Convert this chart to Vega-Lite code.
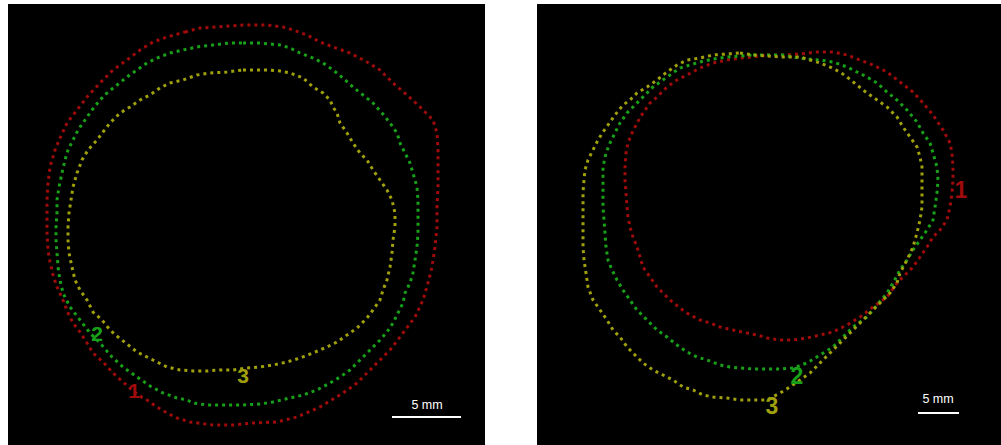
{
  "$schema": "https://vega.github.io/schema/vega-lite/v6.json",
  "background": "white",
  "padding": {"left": 8, "top": 4, "right": 0, "bottom": 0},
  "spacing": 52,
  "config": {"view": {"fill": "black", "stroke": null}, "text": {"font": "Liberation Sans"}},
  "resolve": {"scale": {"color": "shared"}},
  "hconcat": [
    {
      "width": 477,
      "height": 441,
      "layer": [
        {
          "data": {"values": [
            {"s":"1","x":185,"y":32},{"s":"1","x":200,"y":28},{"s":"1","x":217,"y":27},{"s":"1","x":243,"y":25},{"s":"1","x":267,"y":25},{"s":"1","x":283,"y":27},{"s":"1","x":293,"y":30},{"s":"1","x":307,"y":35},{"s":"1","x":320,"y":42},{"s":"1","x":333,"y":47},{"s":"1","x":350,"y":53},{"s":"1","x":367,"y":62},{"s":"1","x":380,"y":70},{"s":"1","x":393,"y":83},{"s":"1","x":407,"y":95},{"s":"1","x":420,"y":107},{"s":"1","x":433,"y":120},{"s":"1","x":437,"y":133},{"s":"1","x":438,"y":150},{"s":"1","x":438,"y":167},{"s":"1","x":438,"y":187},{"s":"1","x":437,"y":207},{"s":"1","x":437,"y":227},{"s":"1","x":435,"y":247},{"s":"1","x":432,"y":267},{"s":"1","x":428,"y":283},{"s":"1","x":423,"y":300},{"s":"1","x":415,"y":317},{"s":"1","x":403,"y":333},{"s":"1","x":390,"y":350},{"s":"1","x":373,"y":367},{"s":"1","x":357,"y":383},{"s":"1","x":343,"y":393},{"s":"1","x":320,"y":407},{"s":"1","x":297,"y":417},{"s":"1","x":277,"y":422},{"s":"1","x":253,"y":423},{"s":"1","x":233,"y":425},{"s":"1","x":213,"y":425},{"s":"1","x":190,"y":422},{"s":"1","x":177,"y":418},{"s":"1","x":167,"y":413},{"s":"1","x":157,"y":407},{"s":"1","x":147,"y":400},{"s":"1","x":138,"y":395},{"s":"1","x":123,"y":382},{"s":"1","x":113,"y":373},{"s":"1","x":103,"y":362},{"s":"1","x":93,"y":353},{"s":"1","x":87,"y":343},{"s":"1","x":80,"y":332},{"s":"1","x":73,"y":323},{"s":"1","x":68,"y":313},{"s":"1","x":63,"y":300},{"s":"1","x":57,"y":287},{"s":"1","x":53,"y":275},{"s":"1","x":50,"y":262},{"s":"1","x":48,"y":250},{"s":"1","x":47,"y":233},{"s":"1","x":47,"y":217},{"s":"1","x":47,"y":200},{"s":"1","x":48,"y":183},{"s":"1","x":50,"y":167},{"s":"1","x":55,"y":150},{"s":"1","x":60,"y":138},{"s":"1","x":67,"y":123},{"s":"1","x":77,"y":110},{"s":"1","x":87,"y":97},{"s":"1","x":100,"y":83},{"s":"1","x":113,"y":70},{"s":"1","x":127,"y":60},{"s":"1","x":140,"y":50},{"s":"1","x":153,"y":42},{"s":"1","x":167,"y":37},{"s":"1","x":185,"y":32},
            {"s":"2","x":243,"y":43},{"s":"2","x":260,"y":43},{"s":"2","x":280,"y":45},{"s":"2","x":290,"y":48},{"s":"2","x":300,"y":53},{"s":"2","x":313,"y":58},{"s":"2","x":323,"y":63},{"s":"2","x":333,"y":70},{"s":"2","x":343,"y":78},{"s":"2","x":353,"y":87},{"s":"2","x":363,"y":95},{"s":"2","x":373,"y":103},{"s":"2","x":382,"y":113},{"s":"2","x":390,"y":123},{"s":"2","x":397,"y":133},{"s":"2","x":400,"y":143},{"s":"2","x":405,"y":153},{"s":"2","x":410,"y":163},{"s":"2","x":413,"y":173},{"s":"2","x":417,"y":187},{"s":"2","x":418,"y":200},{"s":"2","x":418,"y":217},{"s":"2","x":418,"y":233},{"s":"2","x":417,"y":247},{"s":"2","x":415,"y":260},{"s":"2","x":413,"y":273},{"s":"2","x":410,"y":283},{"s":"2","x":405,"y":293},{"s":"2","x":403,"y":303},{"s":"2","x":398,"y":313},{"s":"2","x":393,"y":323},{"s":"2","x":387,"y":332},{"s":"2","x":380,"y":340},{"s":"2","x":370,"y":350},{"s":"2","x":360,"y":360},{"s":"2","x":350,"y":370},{"s":"2","x":340,"y":377},{"s":"2","x":330,"y":383},{"s":"2","x":317,"y":390},{"s":"2","x":303,"y":395},{"s":"2","x":290,"y":398},{"s":"2","x":273,"y":402},{"s":"2","x":260,"y":404},{"s":"2","x":243,"y":405},{"s":"2","x":227,"y":405},{"s":"2","x":207,"y":405},{"s":"2","x":193,"y":403},{"s":"2","x":187,"y":400},{"s":"2","x":177,"y":398},{"s":"2","x":163,"y":393},{"s":"2","x":150,"y":386},{"s":"2","x":137,"y":377},{"s":"2","x":123,"y":367},{"s":"2","x":112,"y":357},{"s":"2","x":100,"y":343},{"s":"2","x":90,"y":333},{"s":"2","x":80,"y":320},{"s":"2","x":70,"y":307},{"s":"2","x":63,"y":293},{"s":"2","x":60,"y":280},{"s":"2","x":58,"y":267},{"s":"2","x":57,"y":253},{"s":"2","x":56,"y":240},{"s":"2","x":56,"y":227},{"s":"2","x":57,"y":213},{"s":"2","x":57,"y":200},{"s":"2","x":59,"y":187},{"s":"2","x":62,"y":173},{"s":"2","x":65,"y":160},{"s":"2","x":68,"y":150},{"s":"2","x":73,"y":140},{"s":"2","x":78,"y":130},{"s":"2","x":85,"y":120},{"s":"2","x":92,"y":110},{"s":"2","x":100,"y":100},{"s":"2","x":107,"y":93},{"s":"2","x":117,"y":85},{"s":"2","x":127,"y":77},{"s":"2","x":137,"y":70},{"s":"2","x":147,"y":63},{"s":"2","x":157,"y":58},{"s":"2","x":170,"y":53},{"s":"2","x":183,"y":50},{"s":"2","x":197,"y":47},{"s":"2","x":213,"y":45},{"s":"2","x":230,"y":43},{"s":"2","x":243,"y":43},
            {"s":"3","x":243,"y":70},{"s":"3","x":267,"y":70},{"s":"3","x":280,"y":71},{"s":"3","x":290,"y":73},{"s":"3","x":303,"y":78},{"s":"3","x":313,"y":87},{"s":"3","x":323,"y":93},{"s":"3","x":330,"y":100},{"s":"3","x":333,"y":107},{"s":"3","x":337,"y":113},{"s":"3","x":340,"y":123},{"s":"3","x":347,"y":133},{"s":"3","x":353,"y":143},{"s":"3","x":360,"y":153},{"s":"3","x":367,"y":160},{"s":"3","x":373,"y":170},{"s":"3","x":380,"y":180},{"s":"3","x":387,"y":190},{"s":"3","x":392,"y":200},{"s":"3","x":395,"y":213},{"s":"3","x":395,"y":227},{"s":"3","x":393,"y":240},{"s":"3","x":392,"y":253},{"s":"3","x":390,"y":267},{"s":"3","x":387,"y":280},{"s":"3","x":383,"y":290},{"s":"3","x":380,"y":300},{"s":"3","x":373,"y":310},{"s":"3","x":367,"y":318},{"s":"3","x":357,"y":328},{"s":"3","x":347,"y":335},{"s":"3","x":337,"y":342},{"s":"3","x":327,"y":347},{"s":"3","x":313,"y":353},{"s":"3","x":300,"y":358},{"s":"3","x":287,"y":362},{"s":"3","x":273,"y":365},{"s":"3","x":260,"y":367},{"s":"3","x":247,"y":368},{"s":"3","x":233,"y":370},{"s":"3","x":220,"y":370},{"s":"3","x":207,"y":371},{"s":"3","x":193,"y":371},{"s":"3","x":180,"y":370},{"s":"3","x":167,"y":367},{"s":"3","x":157,"y":362},{"s":"3","x":147,"y":357},{"s":"3","x":137,"y":352},{"s":"3","x":127,"y":344},{"s":"3","x":118,"y":337},{"s":"3","x":110,"y":330},{"s":"3","x":102,"y":320},{"s":"3","x":93,"y":312},{"s":"3","x":87,"y":300},{"s":"3","x":80,"y":290},{"s":"3","x":75,"y":280},{"s":"3","x":72,"y":267},{"s":"3","x":69,"y":253},{"s":"3","x":68,"y":240},{"s":"3","x":68,"y":227},{"s":"3","x":69,"y":213},{"s":"3","x":71,"y":200},{"s":"3","x":73,"y":187},{"s":"3","x":77,"y":173},{"s":"3","x":82,"y":160},{"s":"3","x":88,"y":150},{"s":"3","x":97,"y":140},{"s":"3","x":103,"y":132},{"s":"3","x":110,"y":123},{"s":"3","x":120,"y":113},{"s":"3","x":130,"y":107},{"s":"3","x":140,"y":100},{"s":"3","x":150,"y":95},{"s":"3","x":160,"y":88},{"s":"3","x":170,"y":83},{"s":"3","x":183,"y":80},{"s":"3","x":197,"y":75},{"s":"3","x":210,"y":73},{"s":"3","x":227,"y":72},{"s":"3","x":243,"y":70}
          ]},
          "mark": {"type": "line", "strokeWidth": 3, "strokeDash": [3, 4], "strokeCap": "butt"},
          "encoding": {
            "x": {"field": "x", "type": "quantitative", "scale": {"domain": [8, 485]}, "axis": null},
            "y": {"field": "y", "type": "quantitative", "scale": {"domain": [4, 445], "reverse": true}, "axis": null},
            "detail": {"field": "s"},
            "order": {"value": null},
            "color": {"field": "s", "type": "nominal", "scale": {"domain": ["1", "2", "3"], "range": ["#a00b0b", "#18a018", "#a0a00c"]}, "legend": null}
          }
        },
        {
          "data": {"values": [
            {"s":"1","x":134,"y":392},{"s":"2","x":97,"y":335},{"s":"3","x":243,"y":377}
          ]},
          "mark": {"type": "text", "fontSize": 21, "fontWeight": "bold", "align": "center", "baseline": "middle"},
          "encoding": {
            "x": {"field": "x", "type": "quantitative", "scale": {"domain": [8, 485]}, "axis": null},
            "y": {"field": "y", "type": "quantitative", "scale": {"domain": [4, 445], "reverse": true}, "axis": null},
            "text": {"field": "s"},
            "color": {"field": "s", "type": "nominal", "legend": null}
          }
        },
        {
          "data": {"values": [{"x": 392, "x2": 461, "y": 417}]},
          "mark": {"type": "rule", "color": "white", "strokeWidth": 2},
          "encoding": {
            "x": {"field": "x", "type": "quantitative", "scale": {"domain": [8, 485]}, "axis": null},
            "x2": {"field": "x2"},
            "y": {"field": "y", "type": "quantitative", "scale": {"domain": [4, 445], "reverse": true}, "axis": null}
          }
        },
        {
          "data": {"values": [{"x": 427, "y": 409, "t": "5 mm"}]},
          "mark": {"type": "text", "color": "white", "fontSize": 12.5, "align": "center", "baseline": "alphabetic"},
          "encoding": {
            "x": {"field": "x", "type": "quantitative", "scale": {"domain": [8, 485]}, "axis": null},
            "y": {"field": "y", "type": "quantitative", "scale": {"domain": [4, 445], "reverse": true}, "axis": null},
            "text": {"field": "t"}
          }
        }
      ]
    },
    {
      "width": 464,
      "height": 441,
      "layer": [
        {
          "data": {"values": [
            {"s":"1","x":767,"y":55},{"s":"1","x":783,"y":55},{"s":"1","x":800,"y":54},{"s":"1","x":817,"y":52},{"s":"1","x":833,"y":52},{"s":"1","x":847,"y":55},{"s":"1","x":860,"y":60},{"s":"1","x":873,"y":65},{"s":"1","x":887,"y":72},{"s":"1","x":900,"y":82},{"s":"1","x":913,"y":92},{"s":"1","x":923,"y":103},{"s":"1","x":933,"y":115},{"s":"1","x":943,"y":130},{"s":"1","x":950,"y":143},{"s":"1","x":952,"y":153},{"s":"1","x":953,"y":167},{"s":"1","x":953,"y":180},{"s":"1","x":952,"y":193},{"s":"1","x":950,"y":207},{"s":"1","x":947,"y":220},{"s":"1","x":940,"y":230},{"s":"1","x":933,"y":237},{"s":"1","x":927,"y":247},{"s":"1","x":920,"y":257},{"s":"1","x":913,"y":267},{"s":"1","x":907,"y":273},{"s":"1","x":897,"y":283},{"s":"1","x":887,"y":297},{"s":"1","x":873,"y":307},{"s":"1","x":860,"y":317},{"s":"1","x":847,"y":325},{"s":"1","x":833,"y":332},{"s":"1","x":820,"y":335},{"s":"1","x":807,"y":338},{"s":"1","x":793,"y":340},{"s":"1","x":780,"y":340},{"s":"1","x":767,"y":338},{"s":"1","x":757,"y":335},{"s":"1","x":747,"y":333},{"s":"1","x":733,"y":330},{"s":"1","x":720,"y":327},{"s":"1","x":710,"y":323},{"s":"1","x":700,"y":320},{"s":"1","x":690,"y":315},{"s":"1","x":680,"y":308},{"s":"1","x":670,"y":300},{"s":"1","x":663,"y":293},{"s":"1","x":657,"y":287},{"s":"1","x":650,"y":277},{"s":"1","x":643,"y":267},{"s":"1","x":640,"y":257},{"s":"1","x":637,"y":247},{"s":"1","x":633,"y":237},{"s":"1","x":630,"y":227},{"s":"1","x":628,"y":217},{"s":"1","x":627,"y":207},{"s":"1","x":626,"y":193},{"s":"1","x":625,"y":180},{"s":"1","x":625,"y":167},{"s":"1","x":626,"y":153},{"s":"1","x":628,"y":143},{"s":"1","x":632,"y":133},{"s":"1","x":637,"y":123},{"s":"1","x":643,"y":113},{"s":"1","x":650,"y":103},{"s":"1","x":657,"y":97},{"s":"1","x":667,"y":87},{"s":"1","x":677,"y":80},{"s":"1","x":687,"y":75},{"s":"1","x":700,"y":68},{"s":"1","x":713,"y":63},{"s":"1","x":727,"y":60},{"s":"1","x":740,"y":58},{"s":"1","x":753,"y":57},{"s":"1","x":767,"y":55},
            {"s":"2","x":753,"y":55},{"s":"2","x":767,"y":55},{"s":"2","x":783,"y":55},{"s":"2","x":793,"y":57},{"s":"2","x":807,"y":59},{"s":"2","x":820,"y":60},{"s":"2","x":833,"y":62},{"s":"2","x":847,"y":67},{"s":"2","x":857,"y":72},{"s":"2","x":867,"y":77},{"s":"2","x":877,"y":83},{"s":"2","x":887,"y":92},{"s":"2","x":897,"y":100},{"s":"2","x":907,"y":110},{"s":"2","x":917,"y":122},{"s":"2","x":923,"y":133},{"s":"2","x":930,"y":143},{"s":"2","x":933,"y":153},{"s":"2","x":937,"y":167},{"s":"2","x":938,"y":180},{"s":"2","x":937,"y":193},{"s":"2","x":935,"y":207},{"s":"2","x":933,"y":220},{"s":"2","x":927,"y":230},{"s":"2","x":920,"y":240},{"s":"2","x":913,"y":250},{"s":"2","x":907,"y":260},{"s":"2","x":900,"y":270},{"s":"2","x":893,"y":283},{"s":"2","x":887,"y":293},{"s":"2","x":877,"y":305},{"s":"2","x":867,"y":317},{"s":"2","x":853,"y":327},{"s":"2","x":843,"y":337},{"s":"2","x":833,"y":347},{"s":"2","x":820,"y":355},{"s":"2","x":807,"y":363},{"s":"2","x":793,"y":368},{"s":"2","x":780,"y":369},{"s":"2","x":767,"y":369},{"s":"2","x":753,"y":369},{"s":"2","x":740,"y":368},{"s":"2","x":730,"y":367},{"s":"2","x":720,"y":365},{"s":"2","x":707,"y":360},{"s":"2","x":697,"y":357},{"s":"2","x":687,"y":352},{"s":"2","x":677,"y":345},{"s":"2","x":667,"y":337},{"s":"2","x":657,"y":330},{"s":"2","x":647,"y":320},{"s":"2","x":637,"y":310},{"s":"2","x":630,"y":300},{"s":"2","x":623,"y":290},{"s":"2","x":617,"y":280},{"s":"2","x":612,"y":270},{"s":"2","x":608,"y":260},{"s":"2","x":606,"y":247},{"s":"2","x":605,"y":233},{"s":"2","x":604,"y":220},{"s":"2","x":603,"y":207},{"s":"2","x":603,"y":193},{"s":"2","x":603,"y":180},{"s":"2","x":603,"y":167},{"s":"2","x":606,"y":153},{"s":"2","x":610,"y":143},{"s":"2","x":615,"y":133},{"s":"2","x":620,"y":123},{"s":"2","x":627,"y":113},{"s":"2","x":633,"y":107},{"s":"2","x":640,"y":100},{"s":"2","x":647,"y":93},{"s":"2","x":653,"y":87},{"s":"2","x":660,"y":82},{"s":"2","x":670,"y":75},{"s":"2","x":680,"y":68},{"s":"2","x":690,"y":65},{"s":"2","x":700,"y":62},{"s":"2","x":713,"y":59},{"s":"2","x":727,"y":57},{"s":"2","x":740,"y":56},{"s":"2","x":753,"y":55},
            {"s":"3","x":740,"y":53},{"s":"3","x":753,"y":55},{"s":"3","x":767,"y":56},{"s":"3","x":783,"y":57},{"s":"3","x":800,"y":57},{"s":"3","x":810,"y":60},{"s":"3","x":820,"y":63},{"s":"3","x":830,"y":67},{"s":"3","x":840,"y":72},{"s":"3","x":847,"y":77},{"s":"3","x":857,"y":85},{"s":"3","x":867,"y":93},{"s":"3","x":877,"y":100},{"s":"3","x":887,"y":107},{"s":"3","x":897,"y":117},{"s":"3","x":903,"y":127},{"s":"3","x":910,"y":137},{"s":"3","x":917,"y":147},{"s":"3","x":920,"y":157},{"s":"3","x":922,"y":167},{"s":"3","x":922,"y":180},{"s":"3","x":922,"y":193},{"s":"3","x":922,"y":207},{"s":"3","x":920,"y":220},{"s":"3","x":917,"y":233},{"s":"3","x":913,"y":247},{"s":"3","x":907,"y":260},{"s":"3","x":900,"y":273},{"s":"3","x":897,"y":283},{"s":"3","x":890,"y":293},{"s":"3","x":880,"y":303},{"s":"3","x":870,"y":313},{"s":"3","x":860,"y":323},{"s":"3","x":850,"y":333},{"s":"3","x":840,"y":343},{"s":"3","x":830,"y":353},{"s":"3","x":820,"y":363},{"s":"3","x":810,"y":373},{"s":"3","x":800,"y":380},{"s":"3","x":790,"y":387},{"s":"3","x":780,"y":393},{"s":"3","x":767,"y":400},{"s":"3","x":753,"y":400},{"s":"3","x":740,"y":400},{"s":"3","x":727,"y":398},{"s":"3","x":713,"y":397},{"s":"3","x":703,"y":395},{"s":"3","x":693,"y":390},{"s":"3","x":683,"y":387},{"s":"3","x":673,"y":380},{"s":"3","x":663,"y":375},{"s":"3","x":653,"y":370},{"s":"3","x":643,"y":363},{"s":"3","x":633,"y":353},{"s":"3","x":627,"y":347},{"s":"3","x":620,"y":337},{"s":"3","x":613,"y":330},{"s":"3","x":607,"y":320},{"s":"3","x":600,"y":310},{"s":"3","x":593,"y":300},{"s":"3","x":588,"y":287},{"s":"3","x":586,"y":273},{"s":"3","x":584,"y":260},{"s":"3","x":583,"y":247},{"s":"3","x":583,"y":233},{"s":"3","x":583,"y":220},{"s":"3","x":583,"y":207},{"s":"3","x":583,"y":193},{"s":"3","x":584,"y":180},{"s":"3","x":585,"y":170},{"s":"3","x":588,"y":160},{"s":"3","x":593,"y":150},{"s":"3","x":598,"y":140},{"s":"3","x":603,"y":132},{"s":"3","x":608,"y":125},{"s":"3","x":615,"y":115},{"s":"3","x":623,"y":105},{"s":"3","x":630,"y":100},{"s":"3","x":637,"y":93},{"s":"3","x":647,"y":87},{"s":"3","x":657,"y":80},{"s":"3","x":667,"y":72},{"s":"3","x":677,"y":65},{"s":"3","x":687,"y":60},{"s":"3","x":700,"y":58},{"s":"3","x":713,"y":55},{"s":"3","x":727,"y":54},{"s":"3","x":740,"y":53}
          ]},
          "mark": {"type": "line", "strokeWidth": 3, "strokeDash": [3, 4], "strokeCap": "butt"},
          "encoding": {
            "x": {"field": "x", "type": "quantitative", "scale": {"domain": [537, 1001]}, "axis": null},
            "y": {"field": "y", "type": "quantitative", "scale": {"domain": [4, 445], "reverse": true}, "axis": null},
            "detail": {"field": "s"},
            "order": {"value": null},
            "color": {"field": "s", "type": "nominal", "scale": {"domain": ["1", "2", "3"], "range": ["#a00b0b", "#18a018", "#a0a00c"]}, "legend": null}
          }
        },
        {
          "data": {"values": [
            {"s":"1","x":961,"y":191},{"s":"2","x":797,"y":377},{"s":"3","x":772,"y":407}
          ]},
          "mark": {"type": "text", "fontSize": 23, "fontWeight": "bold", "align": "center", "baseline": "middle"},
          "encoding": {
            "x": {"field": "x", "type": "quantitative", "scale": {"domain": [537, 1001]}, "axis": null},
            "y": {"field": "y", "type": "quantitative", "scale": {"domain": [4, 445], "reverse": true}, "axis": null},
            "text": {"field": "s"},
            "color": {"field": "s", "type": "nominal", "legend": null}
          }
        },
        {
          "data": {"values": [{"x": 918, "x2": 959, "y": 413}]},
          "mark": {"type": "rule", "color": "white", "strokeWidth": 2},
          "encoding": {
            "x": {"field": "x", "type": "quantitative", "scale": {"domain": [537, 1001]}, "axis": null},
            "x2": {"field": "x2"},
            "y": {"field": "y", "type": "quantitative", "scale": {"domain": [4, 445], "reverse": true}, "axis": null}
          }
        },
        {
          "data": {"values": [{"x": 938, "y": 403, "t": "5 mm"}]},
          "mark": {"type": "text", "color": "white", "fontSize": 12.5, "align": "center", "baseline": "alphabetic"},
          "encoding": {
            "x": {"field": "x", "type": "quantitative", "scale": {"domain": [537, 1001]}, "axis": null},
            "y": {"field": "y", "type": "quantitative", "scale": {"domain": [4, 445], "reverse": true}, "axis": null},
            "text": {"field": "t"}
          }
        }
      ]
    }
  ]
}
